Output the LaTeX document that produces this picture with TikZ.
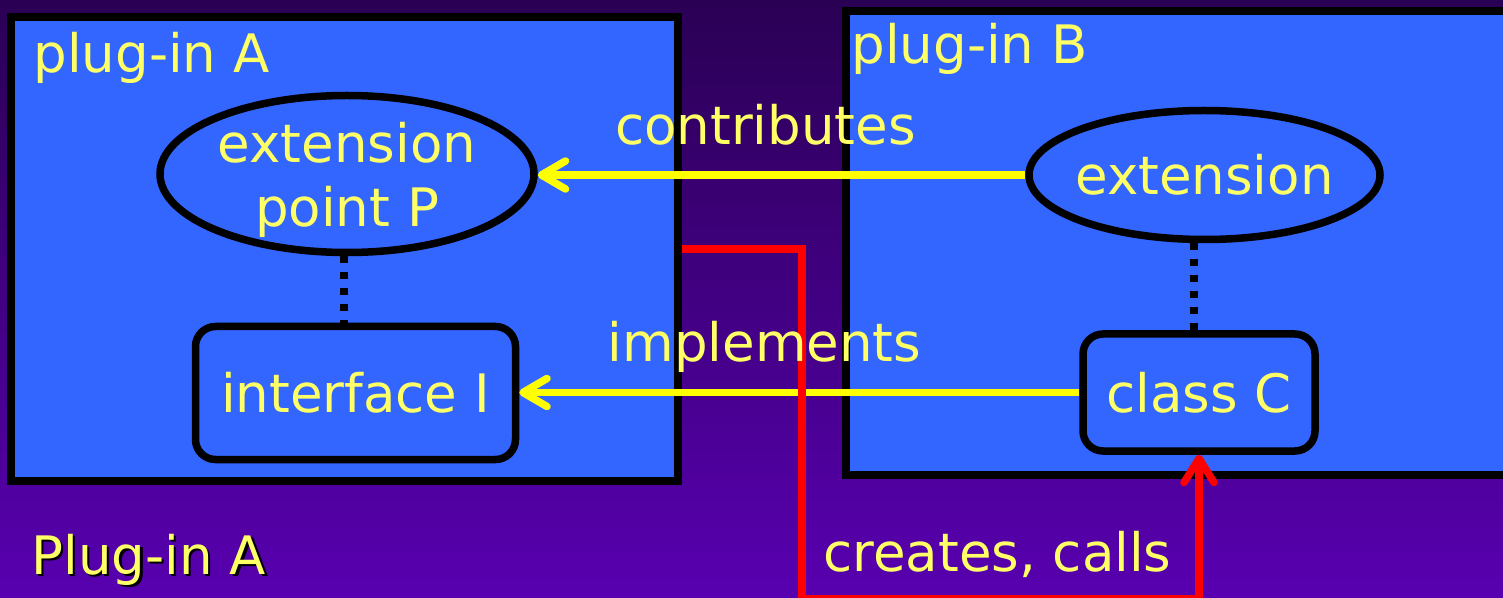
\documentclass[tikz,border=0pt]{standalone}
\usepackage{fontspec}
\setmainfont{DejaVu Sans}
\usetikzlibrary{arrows.meta,shapes.geometric}
\definecolor{bgtop}{RGB}{42,0,84}
\definecolor{bgbot}{RGB}{88,0,176}
\definecolor{boxblue}{RGB}{51,102,255}
\definecolor{txt}{RGB}{255,255,102}
\definecolor{ylw}{RGB}{255,255,0}
\definecolor{rd}{RGB}{255,0,0}
\begin{document}
\begin{tikzpicture}[x=0.5pt,y=-0.5pt,
  every node/.style={font=\fontsize{26.5pt}{32pt}\selectfont, text=txt, inner sep=0pt},
  plugbox/.style={rectangle, draw=black, fill=boxblue, line width=4pt},
  shapeell/.style={ellipse, draw=black, fill=boxblue, line width=3.75pt, inner xsep=-10pt},
  shaperect/.style={rectangle, rounded corners=10pt, draw=black, fill=boxblue, line width=3.75pt},
  dotline/.style={draw=black, line width=4pt, dash pattern=on 3.5pt off 4.5pt},
  yarrow/.style={draw=ylw, line width=3.75pt, -{Straight Barb[length=12pt,width=14pt,round]}},
  rarrow/.style={draw=rd, line width=3.75pt, -{Straight Barb[length=12pt,width=15pt,round]}},
  lbl/.style={anchor=base}
]
\useasboundingbox (0,0) rectangle (1503,598);
\clip (0,0) rectangle (1503,598);
\shade[top color=bgtop, bottom color=bgbot] (0,0) rectangle (1503,598);

\node[plugbox, minimum width=333.5pt, minimum height=232pt] (A) at (344.5,249) {};
\node[plugbox, minimum width=342pt, minimum height=232pt] (B) at (1188,243) {};

\node[shapeell, minimum width=187pt, minimum height=78.5pt, align=center, text depth=0pt] (P) at (347,174) {extension\\point P};
\node[shapeell, minimum width=175.5pt, minimum height=64.5pt] (E) at (1204.5,175) {extension};
\node[shaperect, minimum width=160pt, minimum height=66.5pt] (I) at (355.5,393) {interface I};
\node[shaperect, minimum width=116pt, minimum height=58.5pt] (C) at (1199,392.5) {class C};

\draw[dotline] ([xshift=-1.5pt]P.south) -- ([xshift=-1.5pt]P.south |- I.north);
\draw[dotline] ([xshift=-2.5pt]E.south -| C.north) -- ([xshift=-2.5pt]C.north);

\draw[yarrow] (E.west) -- (E.west -| P.east);
\draw[yarrow] (C.west) -- (C.west -| I.east);

\coordinate (rb) at (802,599);
\draw[rarrow] (A.east) -| (rb) -| (C.south);

\node[anchor=base west] (la) at (33,73) {plug-in A};
\node[anchor=base west] (lb) at (851,64) {plug-in B};
\node[lbl] (lc) at (765.5,145) {contributes};
\node[lbl] (li) at (764.5,362) {implements};
\node[lbl] (lcc) at (997.5,571) {creates, calls};
\node[anchor=base west, text=black] (tshadow) at (33.5,576.5) {Plug-in A};
\node[anchor=base west] (title) at (31,574) {Plug-in A};
\end{tikzpicture}
\end{document}
